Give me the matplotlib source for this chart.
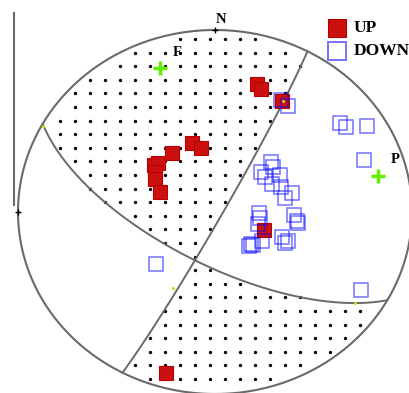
import numpy as np
import matplotlib
matplotlib.use("Agg")
import matplotlib.pyplot as plt

# Fault-plane solution on a lower-hemisphere equal-area (Schmidt) net.
# Nodal planes: (strike, dip) in degrees, dip to the right of strike.
plane_strikes = [119.0, 28.0]
plane_dips = [67.0, 87.0]

# First-motion polarities, plotted as (east, north) on the unit net
up_x = [0.213, 0.234, 0.340, -0.117, -0.071, -0.218, -0.310, -0.289,
        -0.305, -0.305, -0.279, 0.249, -0.249]
up_y = [0.703, 0.676, 0.610, 0.379, 0.352, 0.324, 0.258, 0.269,
        0.220, 0.181, 0.110, -0.099, -0.885]

down_x = [0.335, 0.371, 0.635, 0.665, 0.772, 0.756, -0.299, 0.741,
          0.284, 0.294, 0.234, 0.254, 0.330, 0.289, 0.335, 0.355,
          0.391, 0.401, 0.421, 0.416, 0.223, 0.228, 0.218, 0.183,
          0.193, 0.173, 0.239, 0.340, 0.355, 0.371]
down_y = [0.615, 0.582, 0.489, 0.467, 0.473, 0.286, -0.286, -0.429,
          0.275, 0.247, 0.220, 0.192, 0.203, 0.154, 0.137, 0.077,
          0.104, -0.016, -0.060, -0.049, -0.005, -0.033, -0.066, -0.176,
          -0.181, -0.187, -0.159, -0.137, -0.170, -0.159]

# Principal stress axes
axis_labels = ["F", "P"]
axis_x = [-0.279, 0.827]
axis_y = [0.791, 0.198]

# Small yellow reference points on the nodal planes
ref_x = [-0.873, 0.345, -0.213, 0.711]
ref_y = [0.473, 0.610, -0.418, -0.500]

legend_labels = ["UP", "DOWN"]


def to_xyz(u, v):
    """Equal-area (lower hemisphere) net coords -> unit vector (N, E, Down)."""
    r = np.hypot(u, v)
    theta = 2 * np.arcsin(np.clip(r / np.sqrt(2), 0, 1))
    with np.errstate(invalid="ignore", divide="ignore"):
        n = np.where(r > 0, np.sin(theta) * v / r, 0.0)
        e = np.where(r > 0, np.sin(theta) * u / r, 0.0)
    return np.stack([n, e, np.cos(theta)], axis=-1)


def project(vec):
    n, e, d = vec[..., 0], vec[..., 1], vec[..., 2]
    h = np.hypot(n, e)
    theta = np.arccos(np.clip(d, -1, 1))
    r = np.sqrt(2) * np.sin(theta / 2)
    with np.errstate(invalid="ignore", divide="ignore"):
        u = np.where(h > 0, r * e / h, 0.0)
        v = np.where(h > 0, r * n / h, 0.0)
    return u, v


def great_circle(strike, dip, npts=200):
    s, d = np.radians(strike), np.radians(dip)
    phi = np.linspace(0, np.pi, npts)
    sv = np.array([np.cos(s), np.sin(s), 0.0])
    dv = np.array([np.cos(d) * np.cos(s + np.pi / 2),
                   np.cos(d) * np.sin(s + np.pi / 2), np.sin(d)])
    pts = np.outer(np.cos(phi), sv) + np.outer(np.sin(phi), dv)
    return project(pts)


def pole(strike, dip):
    s, d = np.radians(strike), np.radians(dip)
    return np.array([np.sin(d) * np.cos(s - np.pi / 2),
                     np.sin(d) * np.sin(s - np.pi / 2), np.cos(d)])


W, H, DPI = 409, 393, 100
fig = plt.figure(figsize=(W / DPI, H / DPI), dpi=DPI)
ax = fig.add_axes([0, 0, 1, 1])
cx, cy, ax_r, ay_r = 215.0, 212.0, 197.0, 182.0
ax.set_xlim(-cx / ax_r, (W - cx) / ax_r)
ax.set_ylim(-(H - cy) / ay_r, cy / ay_r)
ax.axis("off")

serif = "Liberation Serif"
grey = "#6a6a6a"

# Compressional-quadrant stipple
n1 = pole(plane_strikes[0], plane_dips[0])
n2 = pole(plane_strikes[1], plane_dips[1])
ref = to_xyz(np.array(axis_x[0]), np.array(axis_y[0]))
sign_t = np.sign((ref @ n1) * (ref @ n2))
gx = -0.0254 + 0.0761 * np.arange(-20, 21)
gy = 0.9505 - 0.0747 * np.arange(0, 40)
GX, GY = np.meshgrid(gx, gy)
inside = np.hypot(GX, GY) < 0.975
vec = to_xyz(GX, GY)
pol = np.sign((vec @ n1) * (vec @ n2)) == sign_t
mask = inside & pol
ax.plot(GX[mask], GY[mask], "o", color="black", ms=2.4, mew=0, zorder=2)

# Primitive circle and nodal planes
t = np.linspace(0, 2 * np.pi, 400)
ax.plot(np.cos(t), np.sin(t), color=grey, lw=1.5, zorder=3)
for s, d in zip(plane_strikes, plane_dips):
    u, v = great_circle(s, d)
    ax.plot(u, v, color=grey, lw=1.4, zorder=3)

# Cardinal ticks and frame line
ax.plot([0, -1.0], [1.0, 0.0], "+", color="black", ms=5, mew=1, zorder=4)
ax.plot([-1.020, -1.020], [1.093, 0.038], color=grey, lw=1.5)
ax.text(0.03, 1.055, "N", family=serif, weight="bold", fontsize=10.5,
        ha="center", va="center", zorder=5)

# Polarities
ax.plot(up_x, up_y, "s", ms=10.5, mfc="#cc1010", mec="#b80000", mew=0.8,
        ls="none", zorder=5)
ax.plot(down_x, down_y, "s", ms=10.5, mfc="none", mec=(0, 0, 1, 0.55),
        mew=1.1, ls="none", zorder=6)

ax.plot(ref_x, ref_y, "o", color="#d8d800", ms=2.2, mew=0, zorder=7)

# Stress axes
ax.plot(axis_x, axis_y, "+", color="#66ee00", ms=10, mew=2.5, zorder=7)
label_dx = [0.085, 0.087]
label_dy = [0.083, 0.093]
for lab, x, y, dx, dy in zip(axis_labels, axis_x, axis_y, label_dx, label_dy):
    ax.text(x + dx, y + dy, lab, family=serif, weight="bold", fontsize=10.5,
            ha="center", va="center", zorder=8)

# Legend
leg_y = [1 - 28 / H, 1 - 51 / H]
ax.plot(337 / W, leg_y[0], "s", ms=13.5, mfc="#cc1010", mec="#b80000",
        mew=0.8, transform=ax.transAxes, clip_on=False)
ax.plot(337 / W, leg_y[1], "s", ms=13.0, mfc="none", mec=(0, 0, 1, 0.55),
        mew=1.4, transform=ax.transAxes, clip_on=False)
for lab, y in zip(legend_labels, leg_y):
    ax.text(354 / W, y, lab, family=serif, fontsize=12.5, weight="bold",
            ha="left", va="center", transform=ax.transAxes)

fig.savefig("out.png", dpi=DPI, facecolor="white")
